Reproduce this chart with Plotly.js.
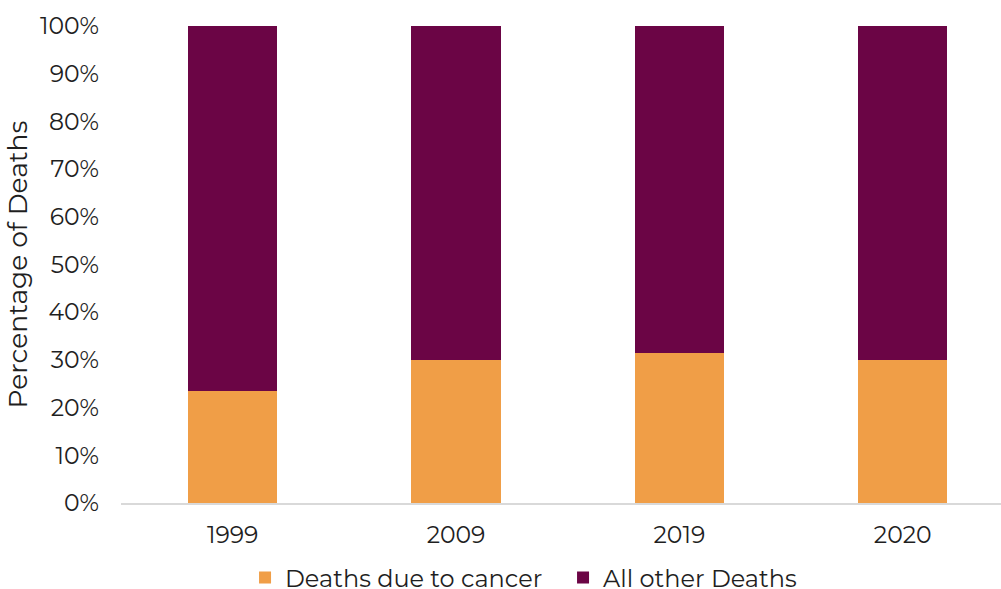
<!DOCTYPE html>
<html>
<head>
<meta charset="utf-8">
<script src="https://cdn.plot.ly/plotly-3.0.1.min.js"></script>
<style>
  html, body { margin: 0; padding: 0; background: #fff; }
  #chart { width: 1001px; height: 589px; }
</style>
</head>
<body>
<div id="chart"></div>
<script>
// Share of deaths by cause, per year
const years = ['1999', '2009', '2019', '2020'];
const cancerShare = [23.4, 30.0, 31.5, 30.0];
const otherShare = cancerShare.map(v => 100 - v);
const yTickVals = [0, 10, 20, 30, 40, 50, 60, 70, 80, 90, 100];
const yTickText = yTickVals.map(v => v + '%');

const font = 'Montserrat, "DejaVu Sans", sans-serif';
const ink = '#1f1f1f';

const traces = [
  {
    type: 'bar',
    name: 'Deaths due to cancer',
    x: years,
    y: cancerShare,
    marker: { color: '#F09E47' },
    hoverinfo: 'skip'
  },
  {
    type: 'bar',
    name: 'All other Deaths',
    x: years,
    y: otherShare,
    marker: { color: '#6B0545' },
    hoverinfo: 'skip'
  }
];

const layout = {
  width: 1001,
  height: 589,
  barmode: 'stack',
  bargap: 0.6,
  paper_bgcolor: '#ffffff',
  plot_bgcolor: '#ffffff',
  margin: { l: 121, r: 0, t: 26, b: 85.5, autoexpand: false },
  font: { family: font, size: 23, color: ink },
  xaxis: {
    type: 'category',
    range: [-0.5, 3.44],
    showgrid: false,
    showline: true,
    linecolor: '#d9d9d9',
    linewidth: 1.5,
    ticks: '',
    ticklabelstandoff: 10,
    tickfont: { family: font, size: 23.5, color: ink },
    automargin: false,
    fixedrange: true
  },
  yaxis: {
    range: [0, 100],
    tickvals: yTickVals,
    ticktext: yTickText,
    showgrid: false,
    zeroline: false,
    showline: false,
    ticks: '',
    ticklabelstandoff: 21,
    tickfont: { family: font, size: 23.5, color: ink },
    title: { text: 'Percentage of Deaths', font: { family: font, size: 26.5, color: ink }, standoff: 4 },
    automargin: false,
    fixedrange: true
  },
  showlegend: true,
  legend: {
    orientation: 'h',
    xref: 'container',
    yref: 'container',
    x: 0.2448,
    xanchor: 'left',
    y: 0.0187,
    yanchor: 'middle',
    entrywidth: 273,
    font: { family: font, size: 24, color: ink },
    traceorder: 'normal',
    itemwidth: 30
  }
};

Plotly.newPlot('chart', traces, layout, { displayModeBar: false, staticPlot: true });
</script>
</body>
</html>
